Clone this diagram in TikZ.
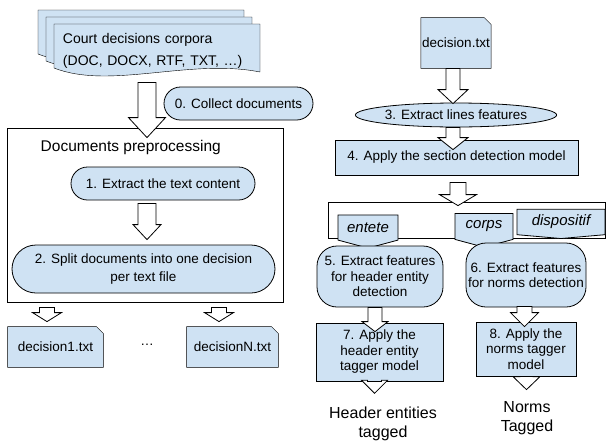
\documentclass[tikz,border=0pt]{standalone}
\usepackage{fontspec}
\setmainfont{Liberation Sans}
\usetikzlibrary{shapes.misc,shapes.geometric,shapes.symbols,calc,backgrounds}
\definecolor{docblue}{RGB}{207,226,243}
\tikzstyle{pill} = [rounded rectangle, draw, fill=docblue, inner sep=2pt]
\tikzstyle{oval} = [ellipse, draw, fill=docblue, inner sep=0pt]
\tikzstyle{box} = [rectangle, draw, fill=docblue, align=center, inner sep=2pt]
\tikzstyle{blob} = [rectangle, rounded corners=20pt, draw, fill=docblue,
    align=center, inner sep=2pt, font=\fontsize{13.5}{15.5}\selectfont]
\tikzstyle{tag} = [signal, signal to=south, draw, fill=docblue, inner sep=1pt,
    font=\fontsize{15}{16}\selectfont\itshape]
\tikzstyle{file} = [rectangle, inner sep=1pt]
\tikzstyle{docfill} = [draw=black, fill=docblue]
\tikzstyle{harrow} = [draw=black, fill=white]
\tikzstyle{result} = [align=center, font=\fontsize{16}{19}\selectfont]
\newcommand{\blockarrow}[5]{%
  \draw[harrow] let \p1=#1, \p2=#2 in
    (\x1-#3pt,\y1) -- (\x1+#3pt,\y1) -- (\x1+#3pt,\y2+#5pt) -- (\x1+#4pt,\y2+#5pt)
    -- (\x1,\y2) -- (\x1-#4pt,\y2+#5pt) -- (\x1-#3pt,\y2+#5pt) -- cycle;}

\begin{document}
\begin{tikzpicture}[x=1pt,y=-1pt,line width=0.8pt,
                    font=\fontsize{13.5}{15.5}\selectfont]
  \useasboundingbox (0,0) rectangle (614,445);

  \node[text width=188pt, inner sep=9pt, minimum height=54pt, align=left,
        font=\fontsize{14}{21.5}\selectfont] (corpora) at (157,51)
        {Court decisions corpora\\(DOC, DOCX, RTF, TXT, …)};
  \node[pill, minimum width=153pt, minimum height=33pt] (s0) at (238.5,103.5) {0. Collect documents};

  \node[draw, minimum width=276pt, minimum height=174pt] (prep) at (145,215) {};
  \node[anchor=west, font=\fontsize{15.5}{18}\selectfont] (preptitle) at (37,147) {Documents preprocessing};
  \node[pill, minimum width=188pt, minimum height=33pt] (s1) at (163,183.5) {1. Extract the text content};
  \node[pill, align=center, minimum width=267pt, minimum height=48pt,
        font=\fontsize{13.5}{18}\selectfont] (s2) at (143.5,269)
        {2. Split documents into one decision\\per text file};

  \node[file, minimum width=95pt, minimum height=40pt] (d1) at (55.5,347) {decision1.txt};
  \node (dots) at (147,345) {…};
  \node[file, minimum width=91pt, minimum height=40pt] (dN) at (232.5,347) {decisionN.txt};

  \node[file, minimum width=68pt, minimum height=50pt] (dec) at (456,43) {decision.txt};
  \node[oval, minimum width=200pt, minimum height=24pt] (s3) at (456,115) {3. Extract lines features};
  \node[box, minimum width=243pt, minimum height=35pt] (s4) at (456.5,157.5) {4. Apply the section detection model};

  \node[draw, minimum width=277pt, minimum height=36pt] (sec) at (466.5,220) {};
  \node[tag, minimum width=60pt, minimum height=31pt, signal pointer angle=150] (entete) at (368,227.5) {entete};
  \node[tag, minimum width=58pt, minimum height=31pt, signal pointer angle=150] (corps) at (484,226.5) {corps};
  \node[tag, minimum width=88pt, minimum height=28pt, signal pointer angle=170] (disp) at (561,222) {dispositif};

  \node[blob, minimum width=126pt, minimum height=61pt] (s5) at (380,276.5)
        {5. Extract features\\for header entity\\detection};
  \node[blob, minimum width=120pt, minimum height=64pt] (s6) at (526,275)
        {6. Extract features\\for norms detection};
  \node[box, minimum width=127pt, minimum height=58pt] (s7) at (379.5,352)
        {7. Apply the\\header entity\\tagger model};
  \node[box, minimum width=100pt, minimum height=54pt] (s8) at (526,349)
        {8. Apply the\\norms tagger\\model};
  \node[result] (hdr) at (383,424) {Header entities\\tagged};
  \node[result] (nrm) at (527,418) {Norms\\Tagged};

  \begin{scope}[on background layer]
    \foreach \dx/\dy in {16/14,8/7,0/0}
      \draw[docfill, shift={(-\dx,-\dy)}] (54,24) -- (260,24) -- (260,72)
        .. controls (190,58) and (110,90) .. (54,68) -- cycle;
    \foreach \f in {d1,dN,dec}
      \draw[docfill] (\f.south west) -- (\f.south east) -- ([yshift=-7pt]\f.north east)
        -- ([xshift=-7pt]\f.north east) -- (\f.north west) -- cycle;
  \end{scope}

  \blockarrow{([xshift=-10pt,yshift=-4pt]corpora.south)}{([yshift=-10pt]prep.north)}{9}{18.5}{20}
  \blockarrow{([xshift=-16pt,yshift=-3pt]s1.south)}{([yshift=5pt]s2.north)}{9}{14}{15}
  \blockarrow{([xshift=-98pt,yshift=-5pt]prep.south)}{([yshift=5pt]d1.north)}{7.5}{14.5}{9}
  \blockarrow{([xshift=74pt,yshift=-5pt]prep.south)}{([yshift=5pt]dN.north)}{7.5}{14.5}{9}
  \blockarrow{([xshift=-3pt]dec.south)}{([yshift=-1pt]s3.north)}{7}{15}{14}
  \blockarrow{([xshift=-3pt]s3.south)}{([yshift=-10pt]s4.north)}{7}{15}{12}
  \blockarrow{([xshift=1.5pt,yshift=-7pt]s4.south)}{([yshift=-4pt]sec.north)}{8}{18.5}{11}
  \blockarrow{([xshift=-5pt]s5.south)}{([yshift=-9pt]s7.north)}{7}{13}{10}
  \blockarrow{([xshift=-5pt]s7.south)}{([yshift=10pt]hdr.north)}{7}{13}{13}
  \blockarrow{([xshift=-1.5pt,yshift=1pt]s6.south)}{([yshift=-5pt]s8.north)}{7.5}{14}{14}
  \blockarrow{([xshift=0.5pt]s8.south)}{([yshift=8pt]nrm.north)}{6.5}{13.5}{13}
\end{tikzpicture}
\end{document}
